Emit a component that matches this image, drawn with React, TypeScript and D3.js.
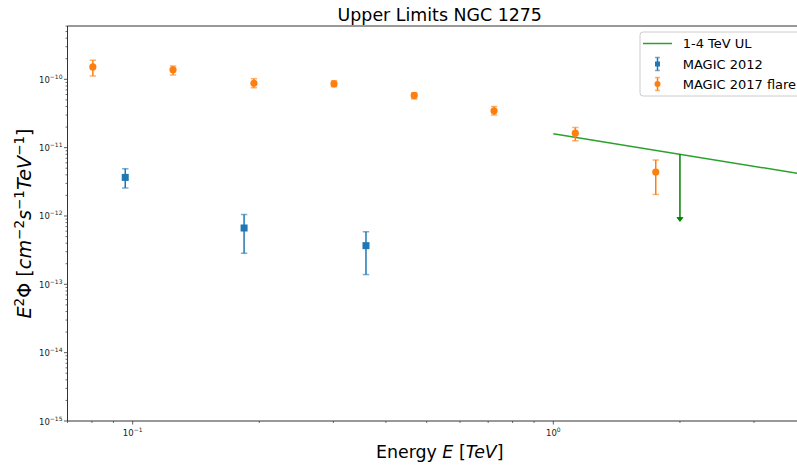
import React from "react";
import * as d3 from "d3";

const flareE = [0.0804, 0.1247, 0.1942, 0.301, 0.467, 0.723, 1.128, 1.752];
const flareF = [1.52e-10, 1.38e-10, 8.75e-11, 8.6e-11, 5.8e-11, 3.46e-11, 1.63e-11, 4.4e-12];
const flareHi = [1.9e-10, 1.57e-10, 1.02e-10, 9.5e-11, 6.37e-11, 4.0e-11, 1.97e-11, 6.6e-12];
const flareLo = [1.12e-10, 1.16e-10, 7.5e-11, 7.8e-11, 5.15e-11, 3.0e-11, 1.26e-11, 2.07e-12];

const magicE = [0.096, 0.184, 0.3586];
const magicF = [3.67e-12, 6.67e-13, 3.68e-13];
const magicHi = [4.9e-12, 1.05e-12, 5.9e-13];
const magicLo = [2.57e-12, 2.84e-13, 1.39e-13];

const ulE = [1, 4];
const ulF = [1.6e-11, 4e-12];
const arrowE = 2;
const arrowTo = 8.3e-13;

const xMajor = [0.1, 1];
const xMajorExp = ["−1", "0"];
const yMajorExp = [-15, -14, -13, -12, -11, -10];

const legendLabels = ["1-4 TeV UL", "MAGIC 2012", "MAGIC 2017 flare"];

const BLUE = "#1f77b4";
const ORANGE = "#ff7f0e";
const GREEN = "#2ca02c";
const DKGREEN = "#008000";
const FONT = "DejaVu Sans, sans-serif";

export default function App() {
  const W = 797, H = 465;
  const L = 67.5, R = 812, T = 26, B = 421;
  const x = d3.scaleLog().domain([Math.pow(10, -1.155), Math.pow(10, 0.615)]).range([L, R]);
  const y = d3.scaleLog().domain([1e-15, Math.pow(10, -9.22)]).range([B, T]);

  const [xd0, xd1] = x.domain();
  const xMinor: number[] = [];
  for (let e = -2; e <= 1; e++) {
    for (let k = 2; k <= 9; k++) {
      const v = k * Math.pow(10, e);
      if (v >= xd0 && v <= xd1) xMinor.push(v);
    }
  }
  const [yd0, yd1] = y.domain();
  const yMinor: number[] = [];
  for (let e = -16; e <= -9; e++) {
    for (let k = 2; k <= 9; k++) {
      const v = k * Math.pow(10, e);
      if (v >= yd0 && v <= yd1) yMinor.push(v);
    }
  }

  const line = d3.line<number>().x((_, i) => x(ulE[i])).y((d) => y(d));
  const cap = 3.2;

  const errbar = (xs: number[], lo: number[], hi: number[], color: string, key: string) =>
    xs.map((e, i) => {
      const px = x(e);
      return (
        <g key={key + i} stroke={color} strokeWidth={1.5}>
          <line x1={px} x2={px} y1={y(lo[i])} y2={y(hi[i])} />
          <line x1={px - cap} x2={px + cap} y1={y(lo[i])} y2={y(lo[i])} strokeOpacity={0.6} />
          <line x1={px - cap} x2={px + cap} y1={y(hi[i])} y2={y(hi[i])} strokeOpacity={0.6} />
        </g>
      );
    });

  const ax = x(arrowE);
  const ay0 = y(ulF[0] * Math.pow(arrowE / ulE[0], Math.log(ulF[1] / ulF[0]) / Math.log(ulE[1] / ulE[0])));
  const ay1 = y(arrowTo);

  const legX = 640, legY = 32;
  const rows = [43.5, 64, 84];
  const sup = 13.5, sdy = 7.5;

  return (
    <svg width={W} height={H} style={{ position: "absolute", left: 0, top: 0, background: "#fff" }} fontFamily={FONT}>
      <rect width={W} height={H} fill="#fff" />
      <defs>
        <clipPath id="plot">
          <rect x={L} y={T} width={R - L} height={B - T} />
        </clipPath>
      </defs>

      {/* title */}
      <text x={(L + R) / 2} y={21} textAnchor="middle" fontSize={17.4} fill="#000">
        Upper Limits NGC 1275
      </text>

      {/* data */}
      <g clipPath="url(#plot)">
        <path d={line(ulF) || ""} fill="none" stroke={GREEN} strokeWidth={1.5} />
        <line x1={ax} x2={ax} y1={ay0} y2={ay1 - 3} stroke={DKGREEN} strokeWidth={1.5} />
        <path d={`M${ax - 3},${ay1 - 4} L${ax + 3},${ay1 - 4} L${ax},${ay1} Z`} fill={DKGREEN} stroke={DKGREEN} strokeWidth={0.8} />
        {errbar(magicE, magicLo, magicHi, BLUE, "m")}
        {magicE.map((e, i) => (
          <rect key={"ms" + i} x={x(e) - 3.5} y={y(magicF[i]) - 3.5} width={7} height={7} fill={BLUE} />
        ))}
        {errbar(flareE, flareLo, flareHi, ORANGE, "f")}
        {flareE.map((e, i) => (
          <circle key={"fc" + i} cx={x(e)} cy={y(flareF[i])} r={3.6} fill={ORANGE} />
        ))}
      </g>

      {/* spines */}
      <line x1={L} x2={L} y1={T} y2={B} stroke="#333" strokeWidth={1} />
      <line x1={L} x2={R} y1={B} y2={B} stroke="#333" strokeWidth={1} />
      <line x1={L} x2={R} y1={T} y2={T} stroke="#333" strokeWidth={1} />

      {/* x ticks */}
      {xMinor.map((v, i) => (
        <line key={"xm" + i} x1={x(v)} x2={x(v)} y1={B} y2={B + 2} stroke="#333" strokeWidth={0.7} />
      ))}
      {xMajor.map((v, i) => (
        <g key={"xM" + i}>
          <line x1={x(v)} x2={x(v)} y1={B} y2={B + 3.5} stroke="#333" strokeWidth={0.8} />
          <text x={x(v)} y={436} textAnchor="middle" fontSize={8.5} fill="#222">
            10<tspan dy={-4} fontSize={6}>{xMajorExp[i]}</tspan>
          </text>
        </g>
      ))}

      {/* y ticks */}
      {yMinor.map((v, i) => (
        <line key={"ym" + i} x1={L - 2} x2={L} y1={y(v)} y2={y(v)} stroke="#333" strokeWidth={0.7} />
      ))}
      {yMajorExp.map((e, i) => (
        <g key={"yM" + i}>
          <line x1={L - 3.5} x2={L} y1={y(Math.pow(10, e))} y2={y(Math.pow(10, e))} stroke="#333" strokeWidth={0.8} />
          <text x={L - 5} y={y(Math.pow(10, e)) + 3.5} textAnchor="end" fontSize={8.5} fill="#222">
            10<tspan dy={-4} fontSize={6}>{"−" + Math.abs(e)}</tspan>
          </text>
        </g>
      ))}

      {/* x label */}
      <text x={(L + R) / 2} y={458} textAnchor="middle" fontSize={17.4} fill="#000">
        Energy <tspan fontStyle="italic">E</tspan> [<tspan fontStyle="italic">TeV</tspan>]
      </text>

      {/* y label */}
      <text transform={`translate(31,${(T + B) / 2}) rotate(-90)`} textAnchor="middle" fontSize={19.2} fill="#000">
        <tspan fontStyle="italic">E</tspan>
        <tspan dy={-sdy} fontSize={sup}>2</tspan>
        <tspan dy={sdy}>Φ [</tspan>
        <tspan fontStyle="italic">cm</tspan>
        <tspan dy={-sdy} fontSize={sup}>−2</tspan>
        <tspan dy={sdy} fontStyle="italic">s</tspan>
        <tspan dy={-sdy} fontSize={sup}>−1</tspan>
        <tspan dy={sdy} fontStyle="italic">TeV</tspan>
        <tspan dy={-sdy} fontSize={sup}>−1</tspan>
        <tspan dy={sdy}>]</tspan>
      </text>

      {/* legend */}
      <g>
        <rect x={legX} y={legY} width={200} height={64} rx={3} fill="#fff" fillOpacity={0.8} stroke="#cccccc" strokeWidth={1} />
        <line x1={643} x2={672} y1={rows[0]} y2={rows[0]} stroke={GREEN} strokeWidth={1.5} />
        <g stroke={BLUE} strokeWidth={1.5}>
          <line x1={657.5} x2={657.5} y1={rows[1] - 6.5} y2={rows[1] + 6.5} />
          <line x1={655} x2={660} y1={rows[1] - 6.5} y2={rows[1] - 6.5} strokeOpacity={0.6} />
          <line x1={655} x2={660} y1={rows[1] + 6.5} y2={rows[1] + 6.5} strokeOpacity={0.6} />
        </g>
        <rect x={655} y={rows[1] - 2.5} width={5} height={5} fill={BLUE} />
        <g stroke={ORANGE} strokeWidth={1.5}>
          <line x1={657.5} x2={657.5} y1={rows[2] - 6.5} y2={rows[2] + 6.5} />
          <line x1={655} x2={660} y1={rows[2] - 6.5} y2={rows[2] - 6.5} strokeOpacity={0.6} />
          <line x1={655} x2={660} y1={rows[2] + 6.5} y2={rows[2] + 6.5} strokeOpacity={0.6} />
        </g>
        <circle cx={657.5} cy={rows[2]} r={3} fill={ORANGE} />
        {legendLabels.map((t, i) => (
          <text key={t} x={682.7} y={rows[i] + 4.7} fontSize={13} fill="#000">
            {t}
          </text>
        ))}
      </g>
    </svg>
  );
}
